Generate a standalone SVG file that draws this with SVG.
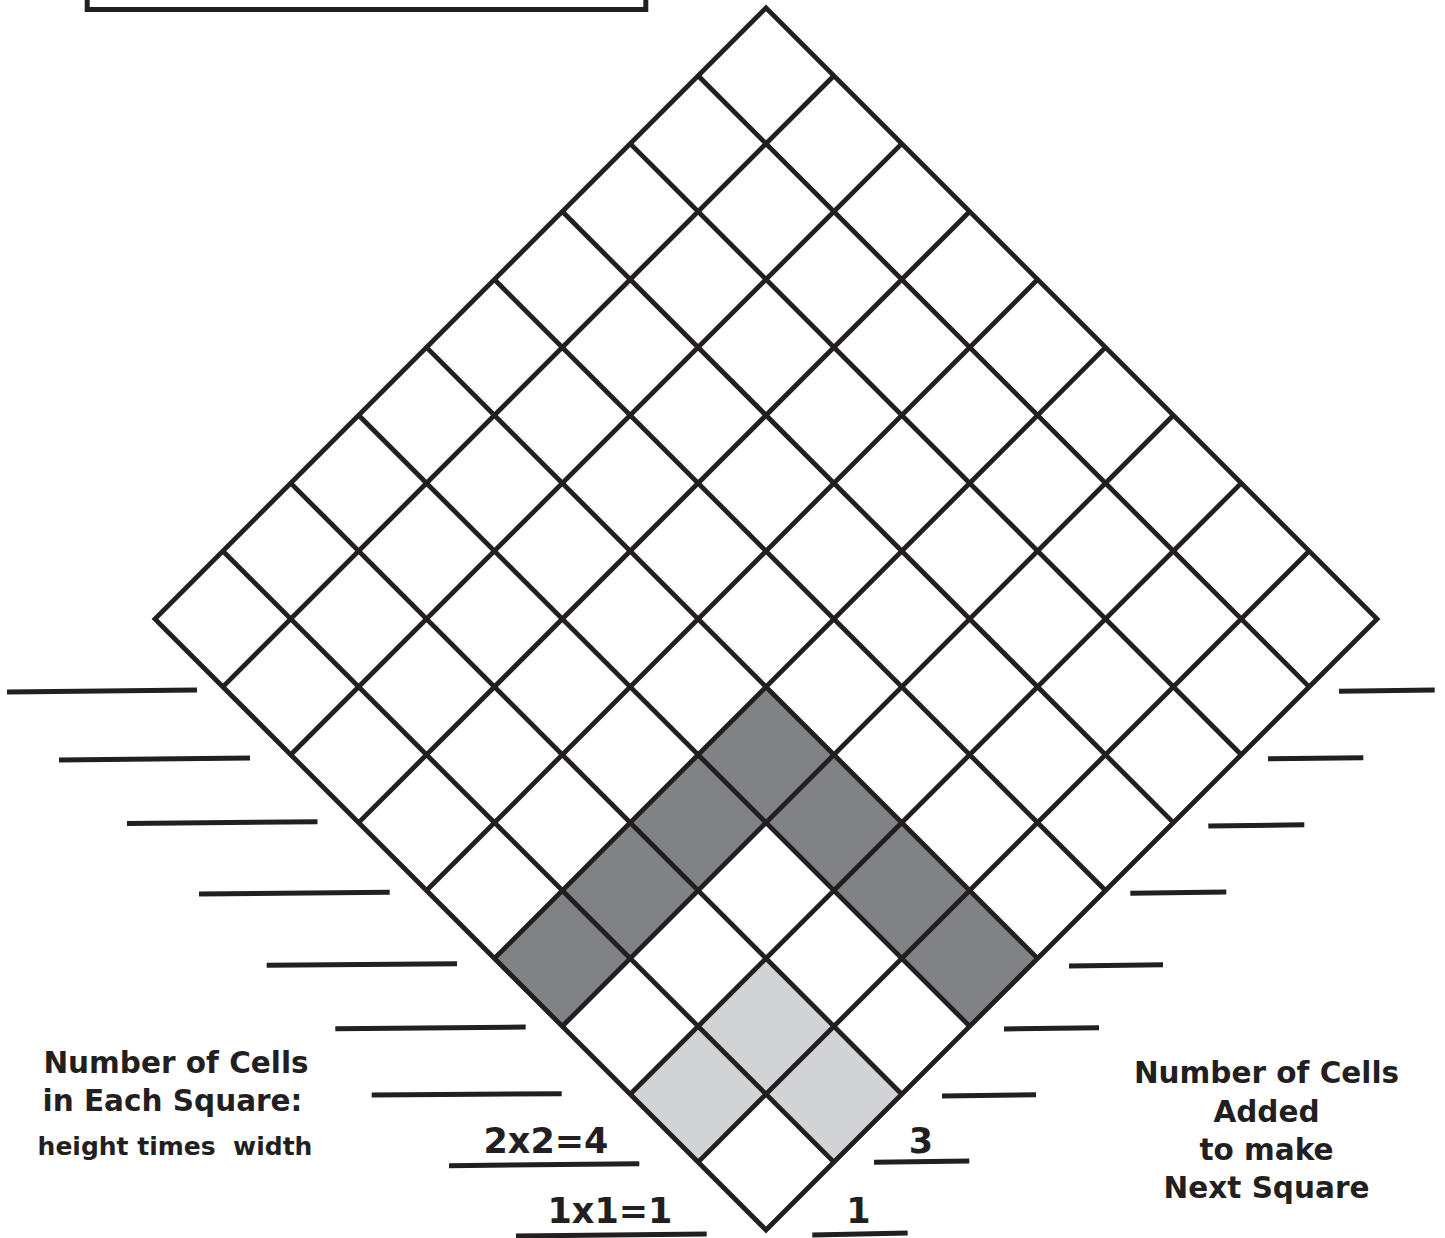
<svg xmlns="http://www.w3.org/2000/svg" width="1445" height="1238" viewBox="0 0 1445 1238">
  <style>
    .ink { stroke: #231f20; fill: none; }
    .grid line { stroke: #231f20; stroke-width: 4.8; }
    .tick { stroke: #231f20; stroke-width: 5; stroke-linecap: butt; }
    .dark { fill: #808285; }
    .light { fill: #d1d3d4; }
    text { font-family: "DejaVu Sans", "Liberation Sans", sans-serif; font-weight: bold; fill: #231f20; text-anchor: middle; }
    .hd { font-size: 29.5px; }
    .sm { font-size: 25px; white-space: pre; }
    .big { font-size: 35px; }
  </style>

  <g id="frame">
    <rect x="87.2" y="-60" width="558.6" height="69.5" fill="#ffffff" stroke="#231f20" stroke-width="5"/>
  </g>

  <!-- diamond grid: local square rotated -135deg about the bottom vertex -->
  <g id="diamond" transform="translate(766,1230) rotate(-135)">
    <g id="shading-light">
      <rect class="light" x="96.02" y="0" width="96.02" height="96.02"/>
      <rect class="light" x="0" y="96.02" width="96.02" height="96.02"/>
      <rect class="light" x="96.02" y="96.02" width="96.02" height="96.02"/>
    </g>
    <g id="shading-dark">
      <rect class="dark" x="288.06" y="0" width="96.02" height="96.02"/>
      <rect class="dark" x="288.06" y="96.02" width="96.02" height="96.02"/>
      <rect class="dark" x="288.06" y="192.04" width="96.02" height="96.02"/>
      <rect class="dark" x="288.06" y="288.06" width="96.02" height="96.02"/>
      <rect class="dark" x="192.04" y="288.06" width="96.02" height="96.02"/>
      <rect class="dark" x="96.02" y="288.06" width="96.02" height="96.02"/>
      <rect class="dark" x="0" y="288.06" width="96.02" height="96.02"/>
    </g>
    <g class="grid" id="grid-lines">
      <line x1="96.02" y1="0" x2="96.02" y2="864.18"/>
      <line x1="192.04" y1="0" x2="192.04" y2="864.18"/>
      <line x1="288.06" y1="0" x2="288.06" y2="864.18"/>
      <line x1="384.08" y1="0" x2="384.08" y2="864.18"/>
      <line x1="480.1" y1="0" x2="480.1" y2="864.18"/>
      <line x1="576.12" y1="0" x2="576.12" y2="864.18"/>
      <line x1="672.14" y1="0" x2="672.14" y2="864.18"/>
      <line x1="768.16" y1="0" x2="768.16" y2="864.18"/>
      <line y1="96.02" x1="0" y2="96.02" x2="864.18"/>
      <line y1="192.04" x1="0" y2="192.04" x2="864.18"/>
      <line y1="288.06" x1="0" y2="288.06" x2="864.18"/>
      <line y1="384.08" x1="0" y2="384.08" x2="864.18"/>
      <line y1="480.1" x1="0" y2="480.1" x2="864.18"/>
      <line y1="576.12" x1="0" y2="576.12" x2="864.18"/>
      <line y1="672.14" x1="0" y2="672.14" x2="864.18"/>
      <line y1="768.16" x1="0" y2="768.16" x2="864.18"/>
    </g>
    <rect id="diamond-border" class="ink" x="0" y="0" width="864.18" height="864.18" stroke-width="4.8" stroke-linejoin="miter"/>
  </g>

  <g id="ticks-left">
    <line class="tick" x1="7" y1="692" x2="197" y2="690"/>
    <line class="tick" x1="59" y1="760" x2="250" y2="758"/>
    <line class="tick" x1="127" y1="823.5" x2="317.5" y2="821.7"/>
    <line class="tick" x1="199" y1="894" x2="389.7" y2="892.3"/>
    <line class="tick" x1="266.7" y1="965.3" x2="457" y2="963.7"/>
    <line class="tick" x1="335.3" y1="1028.7" x2="525.7" y2="1027"/>
    <line class="tick" x1="371.7" y1="1095" x2="561.7" y2="1093.7"/>
    <line class="tick" x1="449" y1="1165.7" x2="639.3" y2="1163.7"/>
    <line class="tick" x1="516" y1="1236" x2="706.7" y2="1234"/>
  </g>

  <g id="ticks-right">
    <line class="tick" x1="1339" y1="691.3" x2="1434.7" y2="690"/>
    <line class="tick" x1="1268" y1="758.7" x2="1363.3" y2="757.7"/>
    <line class="tick" x1="1208.3" y1="826" x2="1304.3" y2="824.7"/>
    <line class="tick" x1="1130.3" y1="893.3" x2="1226.3" y2="892"/>
    <line class="tick" x1="1069" y1="966" x2="1163" y2="964.7"/>
    <line class="tick" x1="1004" y1="1029" x2="1099" y2="1027.7"/>
    <line class="tick" x1="942" y1="1096" x2="1036" y2="1094.7"/>
    <line class="tick" x1="874" y1="1162.3" x2="969.3" y2="1161"/>
    <line class="tick" x1="812.3" y1="1235" x2="907.7" y2="1233"/>
  </g>

  <g id="label-left">
    <text class="hd" x="176" y="1073">Number of Cells</text>
    <text class="hd" x="172.5" y="1111">in Each Square:</text>
    <text class="sm" x="175" y="1155" xml:space="preserve">height times  width</text>
  </g>

  <g id="values-left">
    <text class="big" x="546" y="1153">2x2=4</text>
    <text class="big" x="610" y="1223">1x1=1</text>
  </g>

  <g id="values-right">
    <text class="big" x="921" y="1153">3</text>
    <text class="big" x="858.5" y="1223">1</text>
  </g>

  <g id="label-right">
    <text class="hd" x="1266.5" y="1083">Number of Cells</text>
    <text class="hd" x="1266.5" y="1122">Added</text>
    <text class="hd" x="1266.5" y="1160">to make</text>
    <text class="hd" x="1266.5" y="1198">Next Square</text>
  </g>
</svg>
